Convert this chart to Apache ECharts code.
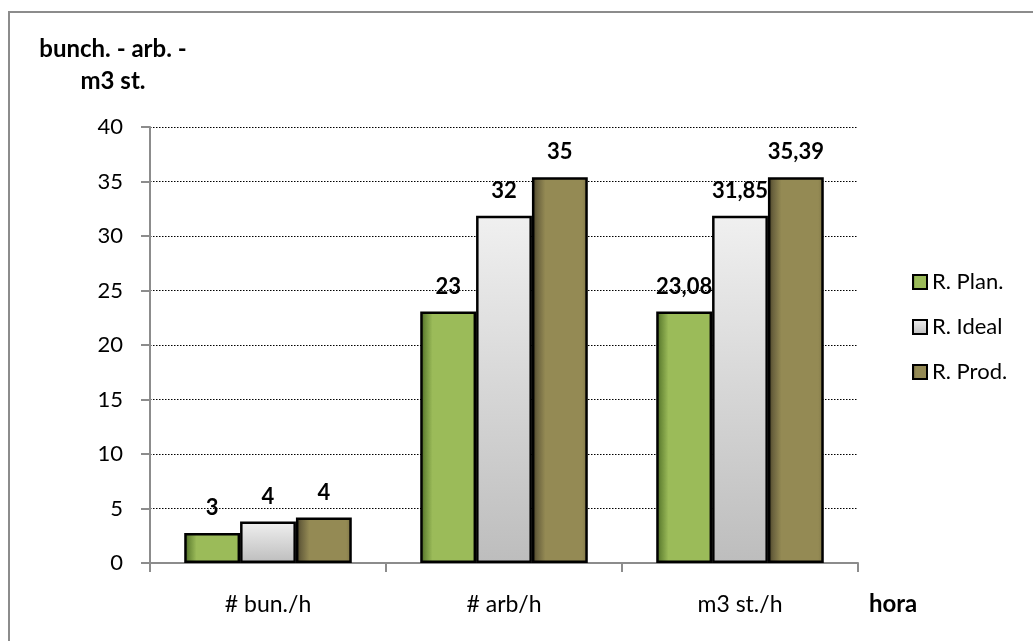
<!DOCTYPE html>
<html>
<head>
<meta charset="utf-8">
<script src="https://cdn.jsdelivr.net/npm/echarts@6/dist/echarts.min.js"></script>
<style>
  html, body { margin: 0; padding: 0; background: #fff; }
  #chart { width: 1033px; height: 641px; }
</style>
</head>
<body>
<div id="chart"></div>
<script>
// Categories along the x axis
const categories = ['# bun./h', '# arb/h', 'm3 st./h'];

// Series values (per hour)
const planValues  = [2.75, 23.08, 23.08];
const idealValues = [3.81, 31.85, 31.85];
const prodValues  = [4.18, 35.39, 35.39];

// Series names
const seriesNames = ['R. Plan.', 'R. Ideal', 'R. Prod.'];

// Y axis range
const yMin = 0, yMax = 40, yStep = 5;

const FONT = 'Lato, "Open Sans", sans-serif';
const FS = 22;

// Labels: whole numbers for the first two groups, two decimals (comma) for the last
function labelFormatter(p) {
  if (p.dataIndex === 2) return p.value.toFixed(2).replace('.', ',');
  return String(Math.round(p.value));
}

function hGrad(stops) {
  return new echarts.graphic.LinearGradient(0, 0, 1, 0,
    stops.map(s => ({ offset: s[0], color: s[1] })));
}

const fills = [
  hGrad([[0, '#435a20'], [0.08, '#6a8a38'], [0.22, '#9bbb59'], [1, '#9bbb59']]),
  new echarts.graphic.LinearGradient(0, 0, 0, 1, [
    { offset: 0, color: '#f0f0f0' }, { offset: 1, color: '#bdbdbd' }
  ]),
  hGrad([[0, '#433c22'], [0.09, '#6a623e'], [0.24, '#948a54'], [0.9, '#948a54'], [1, '#7d7446']])
];

const dataSets = [planValues, idealValues, prodValues];

const series = dataSets.map((vals, i) => ({
  name: seriesNames[i],
  type: 'bar',
  data: vals,
  barGap: '0%',
  barCategoryGap: '29%',
  itemStyle: { color: fills[i], borderColor: '#000', borderWidth: 2.5 },
  label: {
    show: true,
    position: 'top',
    distance: 14,
    formatter: labelFormatter,
    color: '#000',
    fontFamily: FONT,
    fontWeight: 'bold',
    fontSize: FS
  }
}));

const chart = echarts.init(document.getElementById('chart'));
chart.setOption({
  animation: false,
  backgroundColor: '#fff',
  grid: { left: 150, right: 175, top: 127, bottom: 78, containLabel: false },
  legend: {
    orient: 'vertical',
    left: 907,
    top: 266,
    itemGap: 23,
    itemWidth: 14,
    itemHeight: 14,
    icon: 'rect',
    textStyle: { fontFamily: FONT, fontSize: FS, color: '#000' },
    data: seriesNames
  },
  xAxis: {
    type: 'category',
    data: categories,
    axisLine: { lineStyle: { color: '#8c8c8c', width: 2 } },
    axisTick: { show: true, length: 9, lineStyle: { color: '#8c8c8c', width: 2 } },
    axisLabel: { fontFamily: FONT, fontSize: 23, color: '#000', margin: 30 }
  },
  yAxis: {
    type: 'value',
    min: yMin,
    max: yMax,
    interval: yStep,
    axisLine: { show: true, lineStyle: { color: '#8c8c8c', width: 2 } },
    axisTick: { show: true, length: 9, lineStyle: { color: '#8c8c8c', width: 2 } },
    axisLabel: { fontFamily: FONT, fontSize: FS, color: '#000', margin: 27 },
    splitLine: { show: true, lineStyle: { color: '#000', type: [1.5, 1.5], width: 1 } }
  },
  graphic: [
    {
      type: 'rect',
      shape: { x: 9, y: 12, width: 1200, height: 800 },
      style: { fill: 'none', stroke: '#8c8c8c', lineWidth: 2 },
      silent: true
    },
    {
      type: 'text',
      x: 113,
      y: 33,
      style: {
        text: 'bunch. - arb. -\nm3 st.',
        fontFamily: FONT,
        fontWeight: 'bold',
        fontSize: 24,
        lineHeight: 32,
        textAlign: 'center',
        textVerticalAlign: 'top',
        fill: '#000'
      }
    },
    {
      type: 'text',
      x: 869,
      y: 592,
      style: {
        text: 'hora',
        fontFamily: FONT,
        fontWeight: 'bold',
        fontSize: 24,
        textVerticalAlign: 'top',
        fill: '#000'
      }
    }
  ],
  series: series
});
</script>
</body>
</html>
